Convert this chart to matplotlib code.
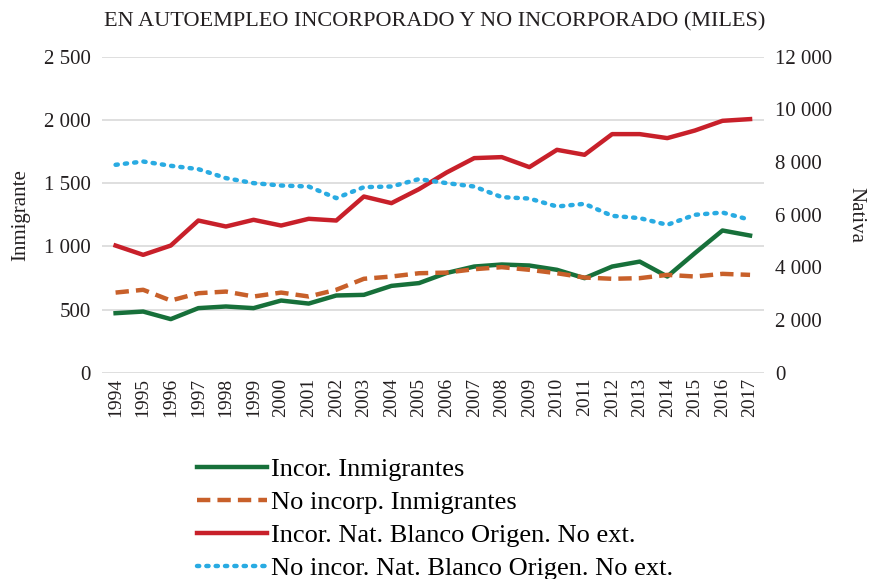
import matplotlib
matplotlib.use("Agg")
import matplotlib.pyplot as plt

# datos (miles)
years = [str(y) for y in range(1994, 2018)]
incor_inmig = [472, 485, 425, 512, 525, 512, 572, 548, 612, 617, 688, 710,
               790, 841, 857, 849, 815, 749, 841, 880, 762, 947, 1126, 1086]
noinc_inmig = [635, 657, 572, 630, 643, 604, 635, 604, 657, 744, 762, 788,
               793, 820, 836, 815, 788, 754, 744, 749, 775, 762, 783, 775]
incor_nat = [4833, 4480, 4833, 5783, 5556, 5810, 5593, 5848, 5783, 6694, 6443, 6975,
             7606, 8152, 8190, 7810, 8467, 8278, 9063, 9063, 8911, 9200, 9568, 9633]
noinc_nat = [7898, 8023, 7860, 7734, 7393, 7203, 7112, 7074, 6633, 7050, 7074, 7355,
             7203, 7074, 6670, 6618, 6315, 6417, 5961, 5874, 5620, 6000, 6087, 5810]

left_ticks = [0, 500, 1000, 1500, 2000, 2500]
right_ticks = [0, 2000, 4000, 6000, 8000, 10000, 12000]

plt.rcParams["font.family"] = ["Liberation Serif", "DejaVu Serif"]
txt = "#231f20"

fig = plt.figure(figsize=(8.7, 5.79), dpi=100)
ax = fig.add_axes([0.117, 0.356, 0.761, 0.546])
ax2 = ax.twinx()

x = range(len(years))
l1, = ax.plot(x, incor_inmig, color="#17703a", lw=3.2, label="Incor. Inmigrantes")
l2, = ax.plot(x, noinc_inmig, color="#c8602a", lw=3.2, ls=(0, (3, 1.6)), label="No incorp. Inmigrantes")
l3, = ax2.plot(x, incor_nat, color="#c8202a", lw=3.2, label="Incor. Nat. Blanco Origen. No ext.")
l4, = ax2.plot(x, noinc_nat, color="#29abe2", lw=3.2, ls=(0, (0.5, 1.6)), dash_capstyle="round",
               label="No incor. Nat. Blanco Origen. No ext.")

ax.set_xlim(-0.5, len(years) - 0.5)
ax.set_ylim(0, 2500)
ax2.set_ylim(0, 12000)
ax.set_yticks(left_ticks)
ax.set_yticklabels([f"{v:,}".replace(",", " ") for v in left_ticks], fontsize=15, color=txt)
ax2.set_yticks(right_ticks)
ax2.set_yticklabels([f"{v:,}".replace(",", " ") for v in right_ticks], fontsize=15, color=txt)
ax.set_xticks(list(x))
ax.set_xticklabels(years, rotation=90, fontsize=14, color=txt)
ax.grid(axis="y", color="#d9d9d9", lw=1.2)
ax.set_axisbelow(True)
for a in (ax, ax2):
    for s in a.spines.values():
        s.set_visible(False)
    a.tick_params(length=0)
ax.tick_params(axis="y", pad=8)
ax2.tick_params(axis="y", pad=8)
ax.set_ylabel("Inmigrante", fontsize=15, color=txt, labelpad=10)
ax2.set_ylabel("Nativa", fontsize=15, color=txt, rotation=270, labelpad=24)

fig.text(0.5, 0.962, "EN AUTOEMPLEO INCORPORADO Y NO INCORPORADO (MILES)",
         ha="center", va="center", fontsize=16, color=txt)

fig.legend(handles=[l1, l2, l3, l4], loc="upper left", bbox_to_anchor=(0.211, 0.233),
           frameon=False, fontsize=19, handlelength=2.65, labelspacing=0.37,
           handletextpad=0.15, borderpad=0)

fig.savefig("out.png", dpi=100)
